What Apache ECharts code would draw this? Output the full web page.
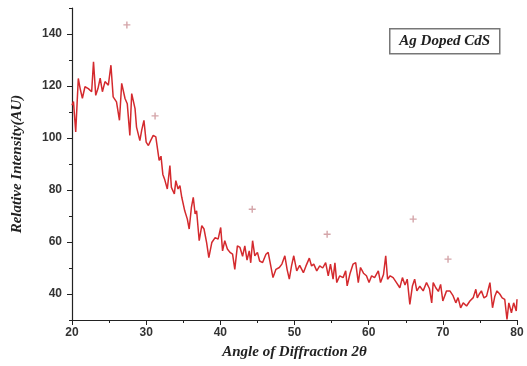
<!DOCTYPE html>
<html>
<head>
<meta charset="utf-8">
<script src="https://cdn.jsdelivr.net/npm/echarts@6/dist/echarts.min.js"></script>
<style>html,body{margin:0;padding:0;background:#fff}#c{width:527px;height:366px}</style>
</head>
<body>
<div id="c"></div>
<script>
var angles = [20.0,20.2,20.5,20.85,21.1,21.4,21.75,22.2,22.65,22.9,23.2,23.5,23.8,24.1,24.45,24.9,25.25,25.55,26.0,26.4,26.7,27.15,27.45,27.8,28.05,28.5,28.7,29.15,29.4,29.7,30.0,30.3,30.6,30.95,31.3,31.75,32.0,32.25,32.5,32.85,33.2,33.4,33.8,34.0,34.3,34.55,34.8,35.2,35.55,35.8,36.1,36.35,36.6,36.8,37.15,37.5,37.8,38.15,38.45,38.85,39.3,39.7,40.05,40.3,40.6,40.95,41.3,41.65,41.95,42.3,42.65,43.0,43.3,43.6,43.9,44.1,44.35,44.65,45.0,45.3,45.7,46.15,46.45,46.8,47.1,47.5,47.95,48.3,48.7,49.0,49.3,49.6,49.9,50.3,50.7,51.2,51.55,52.0,52.3,52.6,53.0,53.4,53.8,54.2,54.55,54.85,55.2,55.45,55.7,56.1,56.55,56.9,57.1,57.5,57.9,58.25,58.6,58.9,59.3,59.7,60.05,60.4,60.8,61.3,61.6,62.0,62.3,62.55,62.9,63.3,63.75,64.2,64.55,64.9,65.2,65.55,65.9,66.2,66.5,66.9,67.35,67.8,68.2,68.5,68.7,69.05,69.4,69.7,70.0,70.5,70.95,71.35,71.75,72.05,72.4,72.75,73.2,73.65,74.1,74.45,74.65,74.9,75.2,75.55,75.9,76.35,76.7,77.0,77.3,77.7,78.0,78.35,78.65,78.9,79.25,79.55,79.9,80.0];
var intensity = [112.6,114,102.3,122.9,119,115.3,119.7,119,117.8,129.3,116.4,119,123,117.8,121.7,120.3,128,115.8,113.9,106.8,121,115.2,113.2,101,117.1,111.3,104.2,99,103,106.8,98.4,97.1,99,101,100.4,91.4,93,86,84,80.4,89.4,81,78.5,83.6,80.4,81.7,77.2,72,68.8,65,73.3,77.2,70.8,72,60.5,66.3,65,59.8,54,59.8,61.7,61.1,65.6,56.6,60.5,57.3,56,55.3,49.5,58.5,57.9,54.5,58.5,53,56.6,52,60.5,54.7,56,52.7,52.1,55.3,56,50.8,46.3,49.5,50.2,51.5,54.7,49.5,45.7,50.8,54.7,48.9,51,48.2,50.8,53.8,50.8,51.5,48.9,50.8,50,52.1,47,51.5,45.7,52,44.4,47,46.3,48.9,43.1,48,51.5,52.1,44.4,50.2,48,47,44.4,47,46.3,48.9,44.4,47.5,54.7,45.7,47,46.3,44.4,42.4,46.3,43.5,45.7,36,43.1,45.7,41.2,43,41.2,44.4,42,36.6,44.4,42.4,41,43.7,37.3,41.2,41.2,39.5,36.6,38.6,34.7,36.6,35.4,37.3,38.6,41.8,38.5,39.9,41.2,38.5,39.2,44.4,34.7,39,41.2,39.9,38.5,37.9,30.2,36.6,32.8,36.6,33.5,38];
var markX = [27.4, 31.2, 44.3, 54.4, 66.0, 70.7];
var markY = [143.5, 108.5, 72.6, 63.0, 68.8, 53.4];
var yTickValues = [40, 60, 80, 100, 120, 140];
var legendText = 'Ag Doped CdS';

var lineData = angles.map(function (a, i) { return [a, intensity[i]]; });
var markData = markX.map(function (a, i) { return [a, markY[i]]; });

var chart = echarts.init(document.getElementById('c'));
var labelFont = { color: '#333', fontSize: 12, fontWeight: 'bold', fontFamily: 'Liberation Sans, Arial, sans-serif' };
var titleFont = { color: '#222', fontSize: 15, fontWeight: 'bold', fontStyle: 'italic', fontFamily: 'Liberation Serif, Times New Roman, serif' };
chart.setOption({
  animation: false,
  grid: { left: 72, right: 10, top: 8, bottom: 46 },
  xAxis: {
    type: 'value', min: 20, max: 80, interval: 10,
    name: 'Angle of Diffraction 2θ', nameLocation: 'middle', nameGap: 25,
    nameTextStyle: titleFont,
    axisLine: { lineStyle: { color: '#222', width: 1.2 } },
    axisTick: { inside: false, length: 5, lineStyle: { color: '#222' } },
    minorTick: { show: true, splitNumber: 2, length: 3, lineStyle: { color: '#222' } },
    axisLabel: Object.assign({ margin: 7 }, labelFont),
    splitLine: { show: false }
  },
  yAxis: [{
    type: 'value', min: 30, max: 150,
    name: 'Relative Intensity(AU)', nameLocation: 'middle', nameGap: 47,
    nameTextStyle: titleFont,
    axisLine: { show: true, lineStyle: { color: '#222', width: 1.2 } },
    axisTick: { show: true, length: 5, customValues: yTickValues, lineStyle: { color: '#222' } },
    axisLabel: Object.assign({ margin: 10, customValues: yTickValues }, labelFont),
    splitLine: { show: false }
  }, {
    type: 'value', min: 30, max: 150, interval: 10, position: 'left',
    axisLine: { show: false },
    axisTick: { show: true, length: 3, lineStyle: { color: '#222' } },
    axisLabel: { show: false },
    splitLine: { show: false }
  }],
  series: [{
    type: 'line', data: lineData, showSymbol: false, symbol: 'none',
    lineStyle: { color: '#d42a2e', width: 1.5 }
  }, {
    type: 'scatter', data: markData,
    symbol: 'path://M4,0H6V4H10V6H6V10H4V6H0V4H4Z', symbolSize: 7,
    itemStyle: { color: '#c98f93' }
  }],
  graphic: [{
    type: 'group', left: 389, top: 28,
    children: [{
      type: 'rect', shape: { x: 0, y: 0, width: 110, height: 25 },
      style: { fill: '#fff', stroke: '#777', lineWidth: 1.5 }
    }, {
      type: 'text', x: 55, y: 12.5,
      style: { text: legendText, align: 'center', verticalAlign: 'middle', fill: '#222', fontSize: 15, fontWeight: 'bold', fontStyle: 'italic', fontFamily: 'Liberation Serif, Times New Roman, serif' }
    }]
  }]
});
</script>
</body>
</html>
